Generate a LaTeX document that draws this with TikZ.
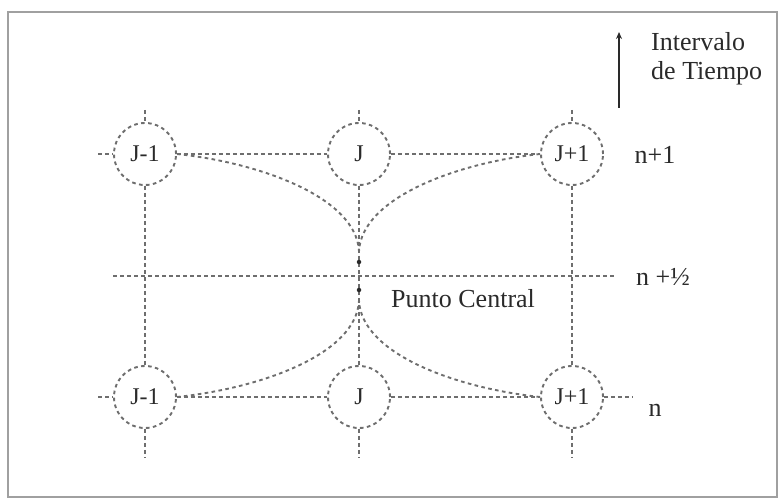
\documentclass[tikz,border=0pt]{standalone}
\usepackage{fontspec}
\setmainfont{Liberation Serif}
\usetikzlibrary{arrows.meta}
\definecolor{gridgray}{HTML}{6E6E6E}
\definecolor{framegray}{HTML}{A0A0A0}
\definecolor{inkgray}{HTML}{2A2A2A}
\begin{document}
\begin{tikzpicture}[x=1pt,y=-1pt,
  gridline/.style={draw=gridgray, line width=1.9pt, dash pattern=on 3.6pt off 3.4pt},
  point/.style={circle, draw=gridgray, line width=1.9pt, dash pattern=on 3.6pt off 3.4pt,
    minimum size=62pt, inner sep=0pt, text=inkgray, font=\fontsize{24}{27}\selectfont},
  dot/.style={circle, fill=inkgray, inner sep=0pt, minimum size=4.5pt},
  lbl/.style={text=inkgray, font=\fontsize{26}{29}\selectfont, inner sep=0pt}]
\useasboundingbox (0,0) rectangle (781,500);
\draw[framegray, line width=2pt] (8,12) rectangle (777,497);

% grid points of the two time levels
\node[point] (tl) at (145,154) {J-1};
\node[point] (tc) at (359,154) {J};
\node[point] (tr) at (572,154) {J+1};
\node[point] (bl) at (145,397) {J-1};
\node[point] (bc) at (359,397) {J};
\node[point] (br) at (572,397) {J+1};

% free ends of the grid lines
\coordinate (tlW) at (98,154);
\coordinate (blW) at (98,397);
\coordinate (brE) at (633,397);
\coordinate (tlN) at (145,110);
\coordinate (tcN) at (359,110);
\coordinate (trN) at (572,110);
\coordinate (blS) at (145,458);
\coordinate (bcS) at (359,458);
\coordinate (brS) at (572,458);
\coordinate (mW) at (113,276);
\coordinate (mE) at (615,276);
\coordinate (cUp) at (359,251);
\coordinate (cDn) at (359,301);

% horizontal lines
\draw[gridline] (tlW) -- (tl.west);
\draw[gridline] (tl.east) -- (tc.west);
\draw[gridline] (tc.east) -- (tr.west);
\draw[gridline] (blW) -- (bl.west);
\draw[gridline] (bl.east) -- (bc.west);
\draw[gridline] (bc.east) -- (br.west);
\draw[gridline] (br.east) -- (brE);
\draw[gridline] (mW) -- (mE);

% vertical lines
\draw[gridline] (tlN) -- (tl.north);
\draw[gridline] (tcN) -- (tc.north);
\draw[gridline] (trN) -- (tr.north);
\draw[gridline] (tl.south) -- (bl.north);
\draw[gridline] (tc.south) -- (bc.north);
\draw[gridline] (tr.south) -- (br.north);
\draw[gridline] (bl.south) -- (blS);
\draw[gridline] (bc.south) -- (bcS);
\draw[gridline] (br.south) -- (brS);

% curves converging on the central point
\draw[gridline] (tl.east) .. controls (262,163) and (356,198) .. (cUp);
\draw[gridline] (tr.west) .. controls (456,163) and (362,198) .. (cUp);
\draw[gridline] (bl.east) .. controls (262,388) and (356,354) .. (cDn);
\draw[gridline] (br.west) .. controls (456,388) and (362,354) .. (cDn);

\node[dot] (pu) at (359,262) {};
\node[dot] (pd) at (359,290) {};

% time axis
\coordinate (arrB) at (619,108);
\coordinate (arrT) at (619,32);
\draw[-{Stealth[length=7pt,width=6pt]}, line width=1.4pt, inkgray] (arrB) -- (arrT);

% labels
\node[lbl, anchor=base west] (iv) at (651,51) {Intervalo};
\node[lbl, anchor=base west] (dt) at (651,80) {de Tiempo};
\node[lbl] (n1) at (655,155) {n+1};
\node[lbl] (nh) at (663,277) {n +½};
\node[lbl] (n0) at (655,410) {n};
\node[lbl, anchor=west] (pc) at (391,299) {Punto Central};
\end{tikzpicture}
\end{document}
